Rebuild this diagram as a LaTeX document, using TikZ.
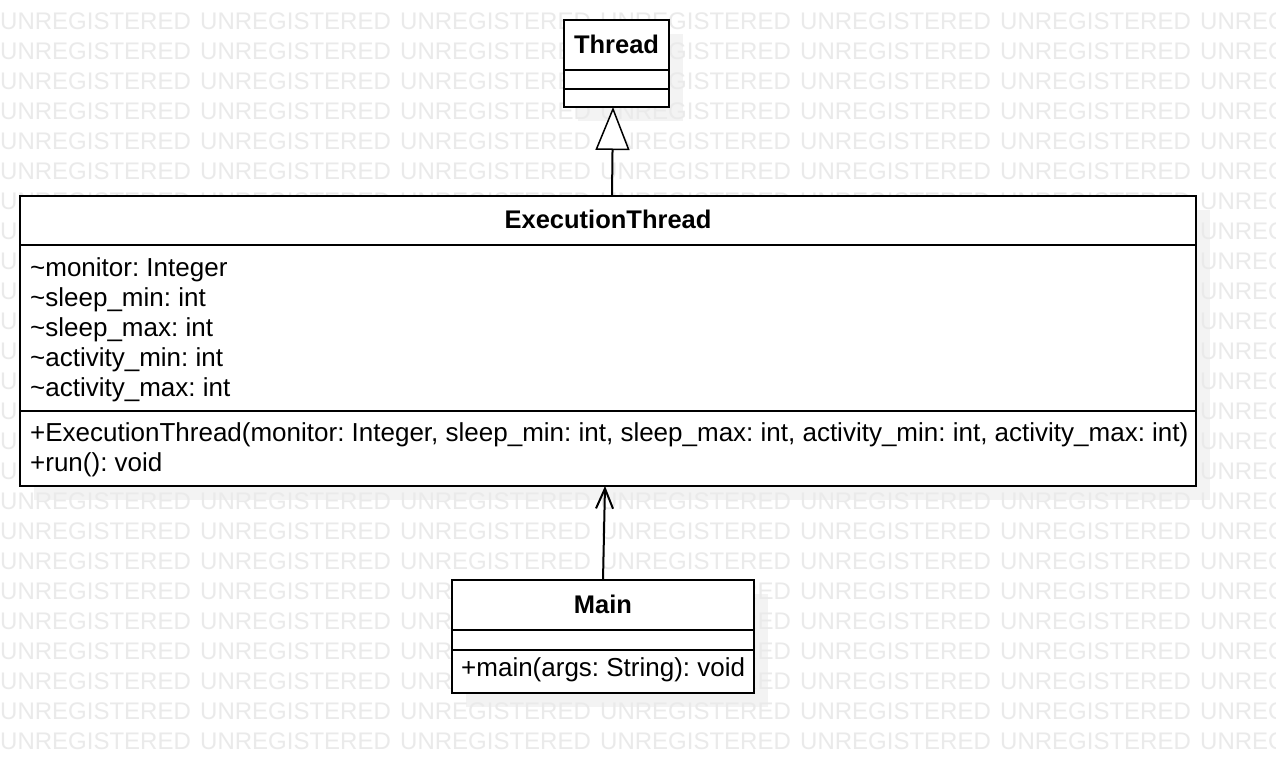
\documentclass[tikz,border=0pt]{standalone}
\usepackage{fontspec}
\setmainfont{Liberation Sans}
\usetikzlibrary{arrows.meta}
\frenchspacing
\definecolor{wmgray}{RGB}{234,234,234}
\definecolor{shadowgray}{RGB}{243,243,243}
\tikzset{
  umlbox/.style={draw=black, line width=2pt, fill=white, rectangle, inner sep=0pt, outer sep=0pt, anchor=north west},
  boxshadow/.style={fill=shadowgray, draw=none},
  divider/.style={draw=black, line width=2pt},
  title/.style={font=\fontsize{25.5}{30}\selectfont\bfseries, anchor=base, inner sep=0pt},
  member/.style={font=\fontsize{26}{30}\selectfont, anchor=base west, inner sep=0pt},
  wm/.style={font=\fontsize{24}{30}\selectfont, text=wmgray, anchor=base west, inner sep=0pt},
  conn/.style={draw=black, line width=2pt},
}
\begin{document}
\begin{tikzpicture}[x=1pt, y=-1pt]
\useasboundingbox (0,0) rectangle (1276,774);
\fill[white] (0,0) rectangle (1276,774);
% shadows
\fill[boxshadow] (578,34) rectangle (683,121);
\fill[boxshadow] (34,210) rectangle (1210,500);
\fill[boxshadow] (466,594) rectangle (768,707);
% watermark
\foreach \r in {-1,...,24} {
  \foreach \c in {0,...,6} {
    \node[wm] (wm-\r-\c) at (200*\c, 29+30*\r) {UNREGISTERED};
  }
}
% Thread
\node[umlbox, minimum width=105pt, minimum height=87pt] (thread) at (564,20) {};
\draw[divider] (thread.west |- 0,70) -- (thread.east |- 0,70);
\draw[divider] (thread.west |- 0,89) -- (thread.east |- 0,89);
\node[title] (thread-name) at (616.5,53) {Thread};
% ExecutionThread
\node[umlbox, minimum width=1176pt, minimum height=290pt] (exec) at (20,196) {};
\draw[divider] (exec.west |- 0,245) -- (exec.east |- 0,245);
\draw[divider] (exec.west |- 0,411) -- (exec.east |- 0,411);
\node[title] (exec-name) at (608,228) {ExecutionThread};
\node[member] (a1) at (30,276) {\char`\~monitor: Integer};
\node[member] (a2) at (30,306) {\char`\~sleep\_min: int};
\node[member] (a3) at (30,336) {\char`\~sleep\_max: int};
\node[member] (a4) at (30,366) {\char`\~activity\_min: int};
\node[member] (a5) at (30,396) {\char`\~activity\_max: int};
\node[member] (m1) at (30,441) {+ExecutionThread(monitor: Integer, sleep\_min: int, sleep\_max: int, activity\_min: int, activity\_max: int)};
\node[member] (m2) at (30,471) {+run(): void};
% Main
\node[umlbox, minimum width=302pt, minimum height=113pt] (main) at (452,580) {};
\draw[divider] (main.west |- 0,630) -- (main.east |- 0,630);
\draw[divider] (main.west |- 0,650) -- (main.east |- 0,650);
\node[title] (main-name) at (603,613) {Main};
\node[member] (mm1) at (461,676) {+main(args: String): void};
% connectors
\coordinate (gen-s) at (exec.north -| 612,0);
\coordinate (gen-e) at (thread.south -| 613,0);
\draw[conn, -{Triangle[open, length=43pt, width=34pt, fill=white, line width=1.5pt]}] (gen-s) -- (gen-e);
\coordinate (as-s) at (main.north -| 603,0);
\coordinate (as-e) at (exec.south -| 605,0);
\draw[conn, -{Straight Barb[length=20pt, width=17pt, line width=2pt]}] (as-s) -- (as-e);
\end{tikzpicture}
\end{document}
